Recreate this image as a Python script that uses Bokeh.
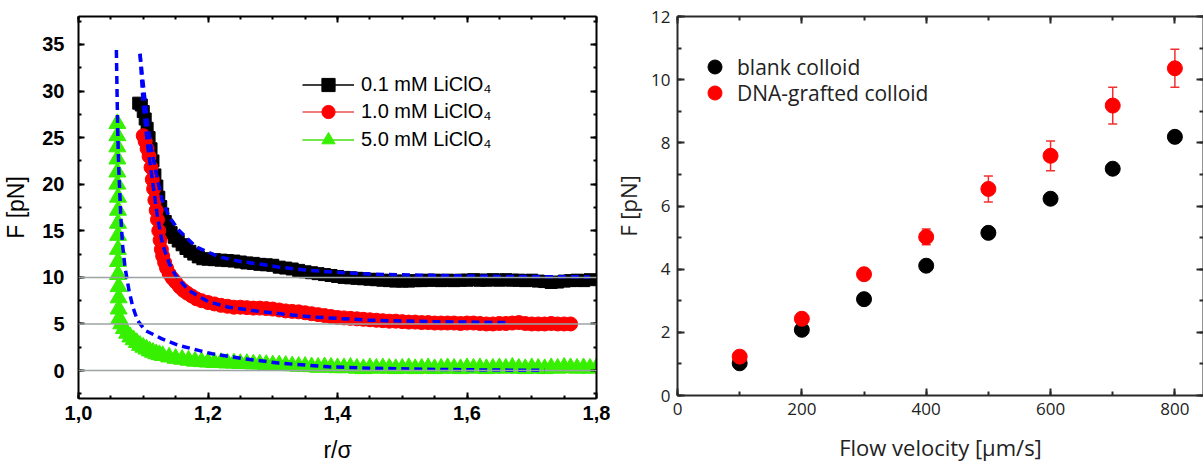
import numpy as np
from bokeh.plotting import figure
from bokeh.layouts import row
from bokeh.models import (FixedTicker, LinearAxis, Legend, LegendItem, Span,
                          CustomJSTickFormatter, ColumnDataSource, Whisker, TeeHead, Range1d)
from bokeh.embed import file_html
from bokeh.resources import INLINE

# ---------------- Left panel data (offset curves) ----------------
x_01 = [1.093, 1.097, 1.100, 1.103, 1.106, 1.109, 1.112, 1.115, 1.118, 1.121, 1.124, 1.127,
        1.130, 1.134, 1.138, 1.143, 1.148, 1.154, 1.160, 1.166, 1.172, 1.178, 1.185, 1.192,
        1.20, 1.21, 1.22, 1.23, 1.24, 1.25, 1.26, 1.27, 1.28, 1.29, 1.30, 1.31, 1.32, 1.33,
        1.34, 1.35, 1.36, 1.37, 1.38, 1.39, 1.40, 1.41, 1.42, 1.43, 1.44, 1.45, 1.46, 1.47,
        1.48, 1.49, 1.50, 1.51, 1.52, 1.53, 1.54, 1.55, 1.56, 1.57, 1.58, 1.59, 1.60, 1.61,
        1.62, 1.63, 1.64, 1.65, 1.66, 1.67, 1.68, 1.69, 1.70, 1.71, 1.72, 1.73, 1.74, 1.75,
        1.76, 1.77, 1.78, 1.79]
y_01 = [28.7, 28.5, 27.8, 27.0, 26.0, 25.0, 23.8, 22.5, 21.0, 19.8, 18.6, 17.6,
        16.8, 16.0, 15.4, 14.8, 14.3, 13.9, 13.5, 13.1, 12.8, 12.5, 12.2, 12.0,
        11.95, 11.9, 11.85, 11.8, 11.75, 11.65, 11.55, 11.5, 11.4, 11.35, 11.3, 11.1, 11.0, 10.9,
        10.75, 10.6, 10.5, 10.4, 10.3, 10.2, 10.1, 10.0, 9.95, 9.9, 9.85, 9.8, 9.75, 9.7,
        9.65, 9.6, 9.6, 9.6, 9.65, 9.65, 9.7, 9.7, 9.65, 9.7, 9.65, 9.7, 9.7, 9.75,
        9.7, 9.7, 9.75, 9.7, 9.75, 9.7, 9.7, 9.65, 9.7, 9.6, 9.55, 9.45, 9.5, 9.6,
        9.65, 9.7, 9.65, 9.75]

x_10 = [1.100, 1.103, 1.106, 1.109, 1.112, 1.114, 1.116, 1.118, 1.120, 1.122, 1.124, 1.126,
        1.128, 1.130, 1.133, 1.136, 1.140, 1.145, 1.150, 1.156, 1.162, 1.168, 1.175, 1.182,
        1.19, 1.20, 1.21, 1.22, 1.23, 1.24, 1.25, 1.26, 1.27, 1.28, 1.29, 1.30, 1.31, 1.32,
        1.33, 1.34, 1.35, 1.36, 1.37, 1.38, 1.39, 1.40, 1.41, 1.42, 1.43, 1.44, 1.45, 1.46,
        1.47, 1.48, 1.49, 1.50, 1.51, 1.52, 1.53, 1.54, 1.55, 1.56, 1.57, 1.58, 1.59, 1.60,
        1.61, 1.62, 1.63, 1.64, 1.65, 1.66, 1.67, 1.68, 1.69, 1.70, 1.71, 1.72, 1.73, 1.74,
        1.75, 1.76]
y_10 = [25.2, 24.6, 23.8, 23.0, 21.8, 20.5, 19.5, 18.3, 17.2, 16.2, 15.0, 14.0,
        13.0, 12.3, 11.6, 11.0, 10.4, 9.9, 9.5, 9.0, 8.6, 8.3, 8.0, 7.7,
        7.5, 7.3, 7.15, 7.0, 6.9, 6.8, 6.8, 6.75, 6.7, 6.7, 6.65, 6.6, 6.5, 6.4,
        6.35, 6.3, 6.2, 6.1, 6.0, 5.9, 5.8, 5.7, 5.65, 5.6, 5.55, 5.5, 5.45, 5.4,
        5.35, 5.3, 5.3, 5.25, 5.2, 5.2, 5.15, 5.15, 5.1, 5.1, 5.1, 5.1, 5.05, 5.1,
        5.1, 5.05, 5.0, 5.0, 5.05, 5.05, 5.1, 5.15, 5.05, 5.0, 5.0, 5.0, 5.05, 5.0,
        5.0, 5.0]

x_50 = [1.060, 1.060, 1.060, 1.060, 1.060, 1.060, 1.061, 1.061, 1.061, 1.061, 1.061, 1.061,
        1.061, 1.062, 1.062, 1.062, 1.063, 1.066, 1.070, 1.075, 1.080, 1.085, 1.090, 1.095,
        1.100, 1.105, 1.110, 1.115, 1.120, 1.125, 1.130, 1.140, 1.150, 1.160, 1.170, 1.180,
        1.19, 1.20, 1.21, 1.22, 1.23, 1.24, 1.25, 1.26, 1.27, 1.28, 1.29, 1.30, 1.31, 1.32,
        1.33, 1.34, 1.35, 1.36, 1.37, 1.38, 1.39, 1.40, 1.41, 1.42, 1.43, 1.44, 1.45, 1.46,
        1.47, 1.48, 1.49, 1.50, 1.51, 1.52, 1.53, 1.54, 1.55, 1.56, 1.57, 1.58, 1.59, 1.60,
        1.61, 1.62, 1.63, 1.64, 1.65, 1.66, 1.67, 1.68, 1.69, 1.70, 1.71, 1.72, 1.73, 1.74,
        1.75, 1.76, 1.77, 1.78, 1.79, 1.80]
y_50 = [26.5, 25.2, 24.0, 22.7, 21.3, 20.0, 18.6, 17.2, 15.8, 14.5, 13.0, 11.7,
        10.3, 9.0, 7.8, 6.6, 5.6, 5.0, 4.5, 4.0, 3.6, 3.3, 3.0, 2.7,
        2.5, 2.3, 2.1, 1.95, 1.8, 1.7, 1.6, 1.45, 1.3, 1.2, 1.1, 1.0,
        0.95, 0.9, 0.85, 0.85, 0.8, 0.8, 0.75, 0.75, 0.7, 0.7, 0.65, 0.6, 0.6, 0.55,
        0.5, 0.45, 0.45, 0.4, 0.35, 0.4, 0.35, 0.3, 0.3, 0.35, 0.25, 0.2, 0.3, 0.25,
        0.3, 0.25, 0.2, 0.25, 0.3, 0.2, 0.25, 0.3, 0.2, 0.25, 0.3, 0.25, 0.2, 0.3,
        0.25, 0.3, 0.2, 0.25, 0.3, 0.25, 0.35, 0.25, 0.2, 0.3, 0.25, 0.2, 0.3, 0.25,
        0.35, 0.3, 0.25, 0.3, 0.25, 0.3]

# fitted curves (blue dashed)
fx_01 = [1.095, 1.101, 1.1066, 1.112, 1.119, 1.129, 1.14, 1.155, 1.181, 1.217, 1.25, 1.283,
         1.309, 1.35, 1.386, 1.45, 1.55, 1.65, 1.79]
fy_01 = [34.0, 30.1, 26.5, 24.0, 21.5, 18.3, 16.5, 15.05, 13.3, 12.2, 11.7, 11.4,
         11.1, 10.8, 10.6, 10.35, 10.2, 10.1, 10.05]
fx_10 = [1.095, 1.100, 1.107, 1.115, 1.122, 1.130, 1.140, 1.150, 1.170, 1.200, 1.232, 1.284,
         1.361, 1.45, 1.55, 1.66]
fy_10 = [34.0, 28.5, 24.0, 20.0, 16.5, 13.5, 11.5, 10.2, 8.6, 7.4, 6.8, 6.3,
         5.75, 5.4, 5.25, 5.15]
fx_50 = [1.0585, 1.0595, 1.0605, 1.062, 1.065, 1.068, 1.072, 1.078, 1.084, 1.091, 1.103, 1.129,
         1.155, 1.206, 1.258, 1.309, 1.386, 1.45, 1.55, 1.65, 1.72]
fy_50 = [34.4, 30.0, 26.0, 22.0, 17.0, 13.5, 11.0, 8.6, 6.8, 5.4, 4.3, 3.4,
         2.7, 1.8, 1.25, 0.8, 0.4, 0.25, 0.12, 0.05, 0.02]

baselines = [0, 5, 10]
left_labels = ["0.1 mM LiClO\u2084", "1.0 mM LiClO\u2084", "5.0 mM LiClO\u2084"]

# ---------------- Right panel data ----------------
velocity = [100, 200, 300, 400, 500, 600, 700, 800]
f_blank = [1.02, 2.08, 3.05, 4.11, 5.15, 6.23, 7.18, 8.19]
f_dna = [1.23, 2.43, 3.84, 5.02, 6.54, 7.59, 9.18, 10.36]
f_dna_err = [0.12, 0.1, 0.1, 0.25, 0.41, 0.47, 0.58, 0.6]
right_labels = ["blank colloid", "DNA-grafted colloid"]

blank_fmt = CustomJSTickFormatter(code="return '';")


def style_axis(ax, lw, col, mt_in, mn_in):
    ax.axis_line_width = lw
    ax.axis_line_color = col
    ax.major_tick_line_width = lw
    ax.minor_tick_line_width = lw
    ax.major_tick_line_color = col
    ax.minor_tick_line_color = col
    ax.major_tick_out = 0
    ax.minor_tick_out = 0
    ax.major_tick_in = mt_in
    ax.minor_tick_in = mn_in


def one_legend(item, loc, gw, gh, standoff, font, size, color):
    lg = Legend(items=[item], location=loc, orientation="vertical")
    lg.background_fill_alpha = 0
    lg.border_line_color = None
    lg.padding = 0
    lg.margin = 0
    lg.spacing = 0
    lg.glyph_width = gw
    lg.glyph_height = gh
    lg.label_height = gh
    lg.label_standoff = standoff
    lg.label_text_font = font
    lg.label_text_font_size = size
    lg.label_text_color = color
    return lg


# ================= LEFT FIGURE =================
LF = "Liberation Sans"
p1 = figure(frame_width=518, frame_height=382, min_border_left=78, min_border_right=14,
            min_border_top=16, min_border_bottom=68, output_backend="svg",
            toolbar_location=None, x_range=Range1d(1.0, 1.8), y_range=Range1d(-3, 38),
            x_axis_location=None, y_axis_location=None)
p1.outline_line_color = None
p1.grid.visible = False
p1.background_fill_color = "white"
p1.border_fill_color = "white"

xt1 = FixedTicker(ticks=[1.0, 1.2, 1.4, 1.6, 1.8], minor_ticks=list(np.arange(1.0, 1.801, 0.05)))
yt1 = FixedTicker(ticks=list(range(0, 40, 5)), minor_ticks=list(np.arange(-2.5, 38, 2.5)))
fmt = CustomJSTickFormatter(code="return tick.toFixed(1).replace('.', ',');")

bx = LinearAxis(ticker=xt1, formatter=fmt, axis_label="r/\u03c3")
ly = LinearAxis(ticker=yt1, axis_label="F [pN]")
tx = LinearAxis(ticker=xt1, formatter=blank_fmt)
ry = LinearAxis(ticker=yt1, formatter=blank_fmt)
for ax in (bx, ly, tx, ry):
    style_axis(ax, 2, "black", 6, 3)
    ax.major_label_text_font = LF
    ax.major_label_text_font_style = "bold"
    ax.major_label_text_font_size = "20px"
    ax.major_label_text_color = "black"
    ax.axis_label_text_font = LF
    ax.axis_label_text_font_style = "normal"
    ax.axis_label_text_font_size = "23px"
    ax.axis_label_text_color = "black"
for ax in (tx, ry):
    ax.major_label_standoff = 0
bx.major_label_standoff = 7
bx.axis_label_standoff = 14
ly.major_label_standoff = 14
ly.axis_label_standoff = 10
p1.add_layout(bx, "below")
p1.add_layout(ly, "left")
p1.add_layout(tx, "above")
p1.add_layout(ry, "right")

for b in baselines:
    p1.add_layout(Span(location=b, dimension="width", line_color="#9aa4a4", line_width=1.5))

green = "#36f000"
l01 = p1.line(x_01, y_01, line_color="black", line_width=1.5)
l10 = p1.line(x_10, y_10, line_color="#f07c7c", line_width=2)
l50 = p1.line(x_50, y_50, line_color="#44e010", line_width=1.5)
s50 = p1.scatter(x_50, y_50, marker="triangle", size=17, fill_color=green, line_color=green)
s01 = p1.scatter(x_01, y_01, marker="square", size=12, fill_color="black", line_color="black")
s10 = p1.scatter(x_10, y_10, marker="circle", size=14, fill_color="#ff0000", line_color="#ff0000")

for fx, fy in ((fx_50, fy_50), (fx_10, fy_10), (fx_01, fy_01)):
    p1.line(fx, fy, line_color="#0000ff", line_width=3.5, line_dash="8 5")

p1.add_layout(one_legend(LegendItem(label=left_labels[0], renderers=[l01, s01]), (224, 297),
                         52, 33, 7, LF, "20px", "black"), "center")
p1.add_layout(one_legend(LegendItem(label=left_labels[1], renderers=[l10, s10]), (224, 270),
                         52, 33, 7, LF, "20px", "black"), "center")
p1.add_layout(one_legend(LegendItem(label=left_labels[2], renderers=[l50, s50]), (224, 242),
                         52, 33, 7, LF, "20px", "black"), "center")

# ================= RIGHT FIGURE =================
RF = "Open Sans"
p2 = figure(frame_width=526, frame_height=379, min_border_left=63, min_border_right=4,
            min_border_top=15, min_border_bottom=72, output_backend="svg",
            toolbar_location=None, x_range=Range1d(0, 846), y_range=Range1d(0, 12),
            x_axis_location=None, y_axis_location=None)
p2.outline_line_color = None
p2.grid.visible = False
p2.background_fill_color = "white"
p2.border_fill_color = "white"

xt2 = FixedTicker(ticks=[0, 200, 400, 600, 800], minor_ticks=list(range(0, 900, 100)))
yt2 = FixedTicker(ticks=[0, 2, 4, 6, 8, 10, 12], minor_ticks=list(range(0, 13)))
bx2 = LinearAxis(ticker=xt2, axis_label="Flow velocity [\u03bcm/s]")
ly2 = LinearAxis(ticker=yt2, axis_label="F [pN]")
tx2 = LinearAxis(ticker=xt2, formatter=blank_fmt)
ry2 = LinearAxis(ticker=yt2, formatter=blank_fmt)
axc = "#2a2a2a"
for ax in (bx2, ly2, tx2, ry2):
    style_axis(ax, 2, axc, 7, 4)
    ax.major_label_text_font = RF
    ax.major_label_text_font_size = "17px"
    ax.major_label_text_color = "#222222"
    ax.axis_label_text_font = RF
    ax.axis_label_text_font_style = "normal"
    ax.axis_label_text_font_size = "22px"
    ax.axis_label_text_color = "#222222"
for ax in (tx2, ry2):
    ax.major_label_standoff = 0
bx2.major_label_standoff = 7
bx2.axis_label_standoff = 14
ly2.major_label_standoff = 7
ly2.axis_label_standoff = 5
p2.add_layout(bx2, "below")
p2.add_layout(ly2, "left")
p2.add_layout(tx2, "above")
p2.add_layout(ry2, "right")

src_err = ColumnDataSource(dict(x=velocity,
                                upper=[v + e for v, e in zip(f_dna, f_dna_err)],
                                lower=[v - e for v, e in zip(f_dna, f_dna_err)]))
wh = Whisker(base="x", upper="upper", lower="lower", source=src_err, dimension="height",
             line_color="#f03030", line_width=1.5,
             upper_head=TeeHead(size=9, line_color="#f03030", line_width=1.5),
             lower_head=TeeHead(size=9, line_color="#f03030", line_width=1.5))
p2.add_layout(wh)
r_blank = p2.scatter(velocity, f_blank, marker="circle", size=15, fill_color="black", line_color="black")
r_dna = p2.scatter(velocity, f_dna, marker="circle", size=15, fill_color="#ff0000", line_color="#ff0000")

p2.add_layout(one_legend(LegendItem(label=right_labels[0], renderers=[r_blank]), (20, 311),
                         35, 35, 5, RF, "21px", "#222222"), "center")
p2.add_layout(one_legend(LegendItem(label=right_labels[1], renderers=[r_dna]), (20, 285),
                         35, 35, 5, RF, "21px", "#222222"), "center")

layout = row(p1, p2)
open("out.html", "w").write(file_html(layout, INLINE))
